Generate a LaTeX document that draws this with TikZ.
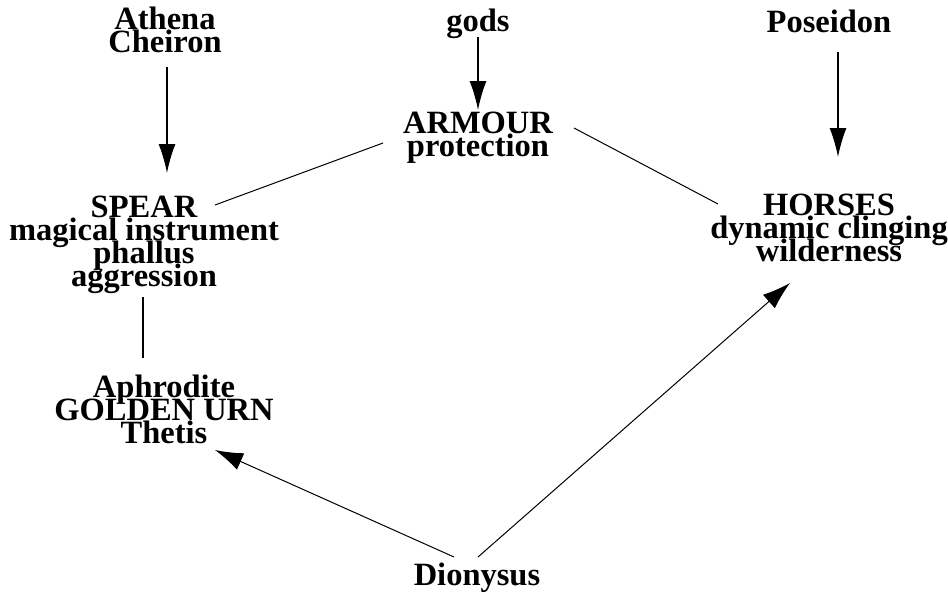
\documentclass[tikz,border=0pt]{standalone}
\usepackage{fontspec}
\setmainfont{Liberation Serif}
\usetikzlibrary{arrows.meta,calc}
\newcommand\mylblfont{\fontsize{32.5}{23}\selectfont\bfseries\lineskiplimit=-100pt\relax\lineskip=0pt\relax}
\tikzset{
  lbl/.style={anchor=base, inner sep=0pt, align=center, font=\mylblfont},
  varr/.style={line width=1.4pt, -{Latex[length=29pt,width=17pt]}},
  darr/.style={line width=1pt, -{Latex[length=28pt,width=18pt]}},
  vline/.style={line width=1.4pt},
  dline/.style={line width=1pt},
}
\begin{document}
\begin{tikzpicture}[x=1pt,y=-1pt]
\useasboundingbox (0,0) rectangle (948,592);
% base anchor = baseline of the last line
\node[lbl] (athena) at (165,52) {Athena\\Cheiron};
\node[lbl] (gods) at (478,31) {gods};
\node[lbl] (poseidon) at (829,32) {Poseidon};
\node[lbl] (armour) at (478,156) {ARMOUR\\protection};
\node[lbl] (spear) at (144,286) {SPEAR\\magical instrument\\phallus\\aggression};
\node[lbl] (horses) at (829,261) {HORSES\\dynamic clinging\\wilderness};
\node[lbl] (aphro) at (164,443) {Aphrodite\\GOLDEN URN\\Thetis};
\node[lbl] (dion) at (477,585) {Dionysus};

\draw[varr] ($(athena.base)+(2,15)$) -- ($(spear.base)+(23,-113)$);
\draw[varr] ($(gods.base)+(0,6)$) -- ($(armour.base)+(0,-46)$);
\draw[varr] ($(poseidon.base)+(9,20)$) -- ($(horses.base)+(9,-104)$);
\draw[dline] ($(armour.base)+(-95,-13)$) -- ($(spear.base)+(71,-81)$);
\draw[dline] ($(armour.base)+(96,-28)$) -- ($(horses.base)+(-111,-57)$);
\draw[vline] ($(spear.base)+(-1,11)$) -- ($(aphro.base)+(-21,-85)$);
\draw[darr] ($(dion.base)+(-23,-28)$) -- ($(aphro.base)+(51,7)$);
\draw[darr] ($(dion.base)+(1,-28)$) -- ($(horses.base)+(-39,22)$);
\end{tikzpicture}
\end{document}
